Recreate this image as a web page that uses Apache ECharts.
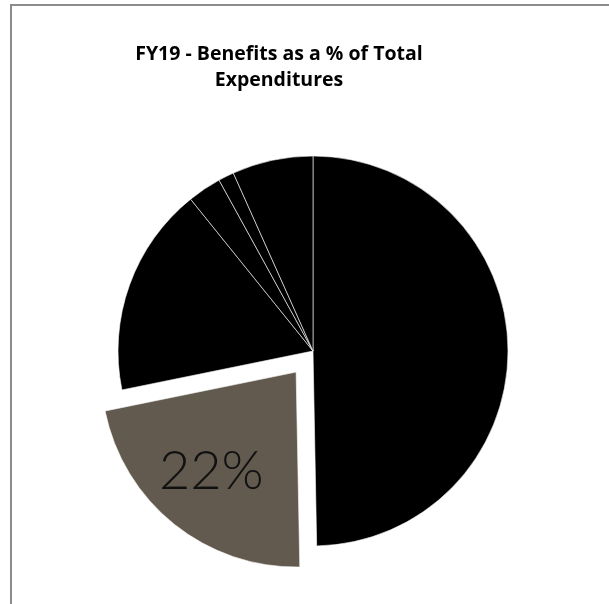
<!DOCTYPE html>
<html>
<head>
<meta charset="utf-8">
<title>FY19 - Benefits as a % of Total Expenditures</title>
<script src="https://cdn.jsdelivr.net/npm/echarts@6/dist/echarts.min.js"></script>
<style>
  html, body { margin: 0; padding: 0; background: #fff; }
  #chart { width: 609px; height: 604px; }
</style>
</head>
<body>
<div id="chart"></div>
<script>
// Share of FY19 total expenditures, in percent, clockwise from 12 o'clock
const categories = ['Salaries', 'Benefits', 'Operating', 'Equipment', 'Travel', 'Other'];
const shares = [49.7, 22.1, 17.4, 2.8, 1.3, 6.7];
const colors = ['#000000', '#625a4f', '#000000', '#000000', '#000000', '#000000'];
const highlighted = 'Benefits';
const titleText = 'FY19 - Benefits as a % of Total\nExpenditures';

const chart = echarts.init(document.getElementById('chart'), null, { renderer: 'canvas' });

const pieData = categories.map((name, i) => {
  const isHi = name === highlighted;
  return {
    name,
    value: shares[i],
    selected: isHi,
    itemStyle: { color: colors[i] },
    select: { itemStyle: { color: colors[i] } },
    label: { show: isHi }
  };
});

chart.setOption({
  animation: false,
  backgroundColor: '#ffffff',
  title: {
    text: titleText,
    left: 274,
    top: 36,
    textAlign: 'center',
    textStyle: {
      fontFamily: 'Open Sans',
      fontWeight: 'bold',
      fontSize: 19.5,
      lineHeight: 26,
      color: '#000000'
    }
  },
  graphic: [{
    type: 'rect',
    silent: true,
    shape: { x: 11, y: 5, width: 800, height: 800 },
    style: { fill: 'none', stroke: '#8c8c8c', lineWidth: 2 }
  }],
  series: [{
    type: 'pie',
    center: [313, 351],
    radius: 195,
    startAngle: 90,
    clockwise: true,
    selectedMode: 'single',
    selectedOffset: 27,
    avoidLabelOverlap: false,
    percentPrecision: 0,
    itemStyle: { borderColor: '#ffffff', borderWidth: 0.6 },
    emphasis: { disabled: true },
    label: {
      position: 'inside',
      formatter: '{d}%',
      fontFamily: 'Lato',
      fontWeight: 300,
      fontSize: 54,
      color: '#111111'
    },
    labelLayout: { dx: -22, dy: 21 },
    labelLine: { show: false },
    data: pieData
  }]
});
</script>
</body>
</html>
